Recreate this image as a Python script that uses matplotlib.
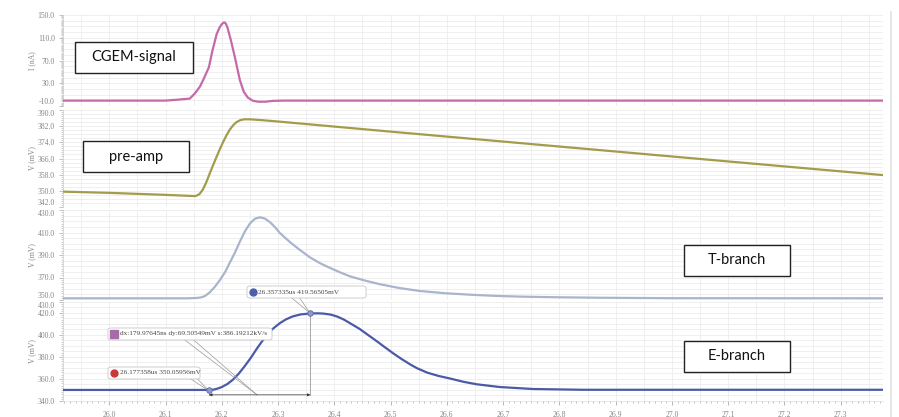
import numpy as np
import matplotlib
matplotlib.use("Agg")
from matplotlib import pyplot as plt
from matplotlib.patches import Rectangle, FancyBboxPatch
from matplotlib.lines import Line2D
from matplotlib.ticker import MultipleLocator, FixedLocator, FormatStrFormatter

# ---- data (time in us) ----
cgem_t = [25.918, 26.10, 26.12, 26.143, 26.152, 26.161, 26.167, 26.172, 26.177, 26.183,
          26.191, 26.196, 26.200, 26.203, 26.205, 26.207, 26.210, 26.216, 26.223, 26.232,
          26.239, 26.246, 26.255, 26.264, 26.277, 26.290, 26.31, 27.375]
cgem_i = [-0.5, -0.5, 1.0, 3.0, 12.0, 24.0, 36.0, 47.0, 58.0, 86.0,
          117.0, 128.0, 134.0, 136.5, 136.8, 135.0, 128.0, 106.0, 76.7, 35.7,
          15.0, 5.0, -0.7, -2.4, -2.5, -1.0, -0.5, -0.5]

pre_t = [25.918, 26.0, 26.1, 26.153, 26.160, 26.166, 26.172, 26.178, 26.184, 26.190,
         26.196, 26.202, 26.208, 26.214, 26.220, 26.226, 26.233, 26.240, 26.250, 26.27,
         26.3, 26.5, 27.0, 27.375]
pre_v = [349.6, 349.0, 348.0, 347.4, 348.3, 350.5, 354.0, 358.2, 362.4, 366.4,
         370.3, 374.0, 377.3, 380.2, 382.4, 384.0, 385.0, 385.4, 385.4, 385.0,
         384.3, 379.3, 367.0, 357.8]

tb_t = [25.918, 26.14, 26.155, 26.163, 26.170, 26.179, 26.188, 26.197, 26.206, 26.214,
        26.223, 26.232, 26.241, 26.25, 26.259, 26.268, 26.277, 26.286, 26.295, 26.303,
        26.321, 26.339, 26.357, 26.375, 26.392, 26.41, 26.428, 26.455, 26.481, 26.515,
        26.552, 26.595, 26.641, 26.685, 26.73, 26.8, 26.872, 27.0, 27.375]
tb_v = [351.5, 351.5, 351.8, 352.3, 353.5, 357.0, 362.0, 368.0, 375.0, 383.0,
        391.8, 401.8, 411.0, 418.0, 422.3, 423.5, 422.3, 419.0, 414.5, 409.6,
        401.5, 394.4, 387.8, 382.6, 378.6, 374.6, 371.0, 367.2, 364.0, 360.7,
        358.0, 356.1, 354.7, 353.7, 353.0, 352.4, 352.0, 351.6, 351.5]

eb_t = [25.918, 26.177358, 26.185, 26.192, 26.2, 26.21, 26.22, 26.23, 26.241, 26.252,
        26.262, 26.271, 26.28, 26.291, 26.303, 26.314, 26.326, 26.34, 26.357335, 26.37,
        26.38, 26.393, 26.405, 26.417, 26.428, 26.445, 26.46, 26.475, 26.49, 26.505,
        26.52, 26.535, 26.547, 26.565, 26.585, 26.606, 26.63, 26.653, 26.694, 26.753,
        26.842, 27.375]
eb_v = [350.06, 350.06, 350.3, 351.2, 352.7, 355.5, 359.5, 364.8, 371.9, 379.6,
        387.4, 393.9, 399.8, 405.8, 410.7, 414.2, 416.9, 418.7, 419.565, 419.7,
        419.5, 418.6, 416.8, 414.0, 410.7, 405.5, 400.0, 394.5, 388.8, 383.2,
        378.0, 373.2, 369.8, 365.8, 362.8, 360.4, 357.4, 355.2, 352.7, 350.9,
        350.2, 350.2]

# cursor readouts
c1 = (26.177358, 350.05956)
c2 = (26.357335, 419.56505)
arrow_y = 345.6

W, H = 899, 417
fig = plt.figure(figsize=(W / 100, H / 100), dpi=100)
fig.patch.set_facecolor("white")

x0, x1 = 63, 883
xlim = (25.9177, 27.3752)
grid_c = "#ececec"
lab_c = "#858585"
serif = ["Liberation Serif", "DejaVu Serif"]

# panel spec: top px, bottom px, ylim, major ticks, minor tick step, grid step, ylabel
panels = [
    (15, 106, (-10, 150), [-10, 30, 70, 110, 150], 2, 10, "I (nA)"),
    (110, 207, (342, 390), [342, 350, 358, 366, 374, 382, 390], 1, 2, "V (mV)"),
    (210, 300, (350, 430), [350, 370, 390, 410, 430], 2, 5, "V (mV)"),
    (302, 401, (340, 430), [340, 360, 380, 400, 420, 430], 2, 5, "V (mV)"),
]
series = [
    (cgem_t, cgem_i, "#c46aa8"),
    (pre_t, pre_v, "#a39c4a"),
    (tb_t, tb_v, "#a9b5cc"),
    (eb_t, eb_v, "#4a5aa6"),
]

axes = []
for k, ((top, bot, yl, yt, ymin, gstep, ylab), (tt, vv, col)) in enumerate(zip(panels, series)):
    ax = fig.add_axes([x0 / W, 1 - bot / H, (x1 - x0) / W, (bot - top) / H])
    ax.set_xlim(*xlim)
    ax.set_ylim(*yl)
    for g in np.arange(yl[0], yl[1] + 0.01, gstep):
        ax.axhline(g, color=grid_c, lw=0.6, zorder=0)
    for g in np.arange(25.95, 27.38, 0.05):
        ax.axvline(g, color=grid_c, lw=0.6, zorder=0)
    ax.plot(tt, vv, color=col, lw=1.6, solid_capstyle="round", solid_joinstyle="round",
            zorder=3)
    ax.yaxis.set_major_locator(FixedLocator(yt))
    ax.yaxis.set_minor_locator(MultipleLocator(ymin))
    ax.yaxis.set_major_formatter(FormatStrFormatter("%.1f"))
    ax.tick_params(axis="y", which="major", length=3, width=0.5, color="#aaaaaa",
                   labelsize=5.5, labelcolor=lab_c, pad=3)
    ax.tick_params(axis="y", which="minor", length=1.5, width=0.5, color="#bbbbbb")
    labels = ax.get_yticklabels()
    for lbl in labels:
        lbl.set_fontfamily(serif)
    # extreme labels sit against the neighbouring panel
    if k < 3:
        labels[0].set_va("bottom")
    if k > 0:
        labels[-1].set_va("top")
    ax.set_ylabel(ylab, fontsize=5.5, color=lab_c, family=serif, labelpad=1)
    for s in ["top", "right", "bottom"]:
        ax.spines[s].set_visible(False)
    ax.spines["left"].set_color("#cccccc")
    ax.spines["left"].set_linewidth(0.5)
    ax.tick_params(axis="x", which="both", bottom=False, labelbottom=False)
    ax.patch.set_alpha(0)
    axes.append(ax)

ax4 = axes[3]
ax4.spines["bottom"].set_visible(True)
ax4.spines["bottom"].set_color("#dddddd")
ax4.spines["bottom"].set_linewidth(0.5)
ax4.xaxis.set_major_locator(MultipleLocator(0.1))
ax4.xaxis.set_minor_locator(MultipleLocator(0.01))
ax4.xaxis.set_major_formatter(FormatStrFormatter("%.1f"))
ax4.tick_params(axis="x", which="major", bottom=True, labelbottom=True, length=3, width=0.5,
                color="#999999", labelsize=5.5, labelcolor=lab_c, pad=4)
ax4.tick_params(axis="x", which="minor", bottom=True, length=1.5, width=0.5, color="#aaaaaa")
for lbl in ax4.get_xticklabels():
    lbl.set_fontfamily(serif)

# ---- cursor measurement on the E-branch ----
ax4.plot([c1[0], c1[0]], [c1[1], arrow_y], color="#999999", lw=0.6, zorder=4)
ax4.plot([c2[0], c2[0]], [c2[1], arrow_y], color="#999999", lw=0.6, zorder=4)
ax4.annotate("", xy=(c2[0], arrow_y), xytext=(c1[0], arrow_y),
             arrowprops=dict(arrowstyle="<|-|>", lw=0.5, color="#333333",
                             mutation_scale=4, shrinkA=0, shrinkB=0), zorder=5)
ax4.plot([c1[0], c2[0]], [c1[1], c2[1]], "o", ms=4, mfc="#8e9acb", mec="#5a67a8",
         mew=0.6, zorder=6)


def px2data(px, py):
    t = 26.0 + (px - 109.3) / 562.6
    v = 340 + (401 - py) * 0.93
    return t, v


def leader(ax, p_a, p_b, p_end):
    e = px2data(*p_end)
    for p in (p_a, p_b):
        a = px2data(*p)
        ax.plot([a[0], e[0]], [a[1], e[1]], color="#9a9a9a", lw=0.5, zorder=4, clip_on=False)


leader(ax4, (289, 298), (298, 298), (310, 315))
leader(ax4, (190, 379), (197, 379), (209, 391))
leader(ax4, (183, 340), (192, 340), (257, 395))


def readout(left, right, cy, icon, icon_col, text):
    h = 12
    p = FancyBboxPatch((left / W, 1 - (cy + h / 2) / H), (right - left) / W, h / H,
                       boxstyle="round,pad=0,rounding_size=0.004",
                       transform=fig.transFigure, fc="white", ec="#c8c8c8", lw=0.6,
                       zorder=10)
    fig.add_artist(p)
    fig.add_artist(Line2D([(left + 5.5) / W], [1 - cy / H], marker=icon,
                          ms=5 if icon == "o" else 6, mfc=icon_col, mec=icon_col,
                          transform=fig.transFigure, zorder=11))
    fig.text((left + 11.5) / W, 1 - cy / H, text, fontsize=5.2, family=serif,
             color="#444444", va="center", ha="left", zorder=12)


readout(247, 366, 292, "o", "#4f5fa8", "26.357335us 419.56505mV")
readout(108, 272, 334, "s", "#a86aa8", "dx:179.97645ns dy:69.50549mV s:386.19212kV/s")
readout(108, 200, 373, "o", "#c83a3a", "26.177358us 350.05956mV")

# ---- channel name boxes ----
boxes = [
    ("CGEM-signal", 75, 193, 42, 73),
    ("pre-amp", 83, 189, 141, 172),
    ("T-branch", 684, 790, 245, 276),
    ("E-branch", 684, 790, 341, 372),
]
for name, l, r, t, b in boxes:
    fig.add_artist(Rectangle((l / W, 1 - b / H), (r - l) / W, (b - t) / H,
                             transform=fig.transFigure, fc="white", ec="#222222",
                             lw=1.0, zorder=20))
    fig.text((l + r) / 2 / W, 1 - (t + b) / 2 / H, name, fontsize=10.5,
             family=["Lato", "DejaVu Sans"], color="#111111", ha="center", va="center",
             zorder=21)

# right border of the screenshot
fig.add_artist(Line2D([891 / W, 891 / W], [0, 1 - 12 / H], color="#e2e2e2", lw=1.2,
                      transform=fig.transFigure))

fig.savefig("out.png", dpi=100)
